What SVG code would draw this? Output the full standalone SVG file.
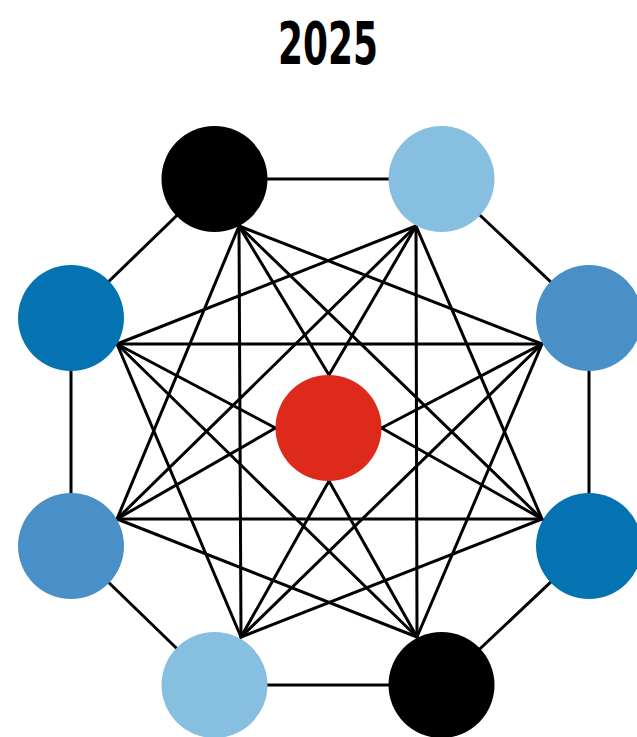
<svg xmlns="http://www.w3.org/2000/svg" width="637" height="737" viewBox="0 0 637 737">
<style>
.e{stroke:#000;stroke-width:3;fill:none;stroke-linecap:round}
.title{font-family:"DejaVu Sans","Liberation Sans",sans-serif;font-weight:bold;font-size:58px;fill:#000}
.blk{fill:#000}.lb{fill:#86bfe0}.mb{fill:#4a90c8}.db{fill:#0572b2}.red{fill:#dd2a1b}
</style>
<rect width="637" height="737" fill="#fff"/>
<text class="title" x="328" y="64" text-anchor="middle" textLength="100" lengthAdjust="spacingAndGlyphs">2025</text>
<g id="connectors" class="e">
<!-- outer ring -->
<line x1="214.5" y1="179" x2="441.5" y2="179"/>
<line x1="441.5" y1="179" x2="589" y2="318"/>
<line x1="589" y1="318" x2="589" y2="546"/>
<line x1="589" y1="546" x2="441.5" y2="685"/>
<line x1="441.5" y1="685" x2="214.5" y2="685"/>
<line x1="214.5" y1="685" x2="71" y2="546"/>
<line x1="71" y1="546" x2="71" y2="318"/>
<line x1="71" y1="318" x2="214.5" y2="179"/>
<!-- inner chords -->
<line x1="239" y1="226" x2="542" y2="344"/>
<line x1="239" y1="226" x2="542" y2="519"/>
<line x1="239" y1="226" x2="241" y2="637"/>
<line x1="239" y1="226" x2="117" y2="519"/>
<line x1="416" y1="226" x2="542" y2="519"/>
<line x1="416" y1="226" x2="417" y2="637"/>
<line x1="416" y1="226" x2="117" y2="519"/>
<line x1="416" y1="226" x2="117" y2="344"/>
<line x1="542" y1="344" x2="417" y2="637"/>
<line x1="542" y1="344" x2="241" y2="637"/>
<line x1="542" y1="344" x2="117" y2="344"/>
<line x1="542" y1="519" x2="241" y2="637"/>
<line x1="542" y1="519" x2="117" y2="519"/>
<line x1="417" y1="637" x2="117" y2="519"/>
<line x1="417" y1="637" x2="117" y2="344"/>
<line x1="241" y1="637" x2="117" y2="344"/>
<!-- to centre -->
<line x1="239" y1="226" x2="329" y2="375"/>
<line x1="416" y1="226" x2="329" y2="375"/>
<line x1="542" y1="344" x2="381.5" y2="428"/>
<line x1="542" y1="519" x2="381.5" y2="428"/>
<line x1="417" y1="637" x2="329" y2="481"/>
<line x1="241" y1="637" x2="329" y2="481"/>
<line x1="117" y1="519" x2="275.5" y2="428"/>
<line x1="117" y1="344" x2="275.5" y2="428"/>
</g>
<g id="n-tl"><circle class="blk" cx="214.5" cy="179" r="53"/></g>
<g id="n-tr"><circle class="lb" cx="441.5" cy="179" r="53"/></g>
<g id="n-ru"><circle class="mb" cx="589" cy="318" r="53"/></g>
<g id="n-rl"><circle class="db" cx="589" cy="546" r="53"/></g>
<g id="n-br"><circle class="blk" cx="441.5" cy="685" r="53"/></g>
<g id="n-bl"><circle class="lb" cx="214.5" cy="685" r="53"/></g>
<g id="n-ll"><circle class="mb" cx="71" cy="546" r="53"/></g>
<g id="n-lu"><circle class="db" cx="71" cy="318" r="53"/></g>
<g id="n-c"><circle class="red" cx="328.5" cy="428" r="53"/></g>
</svg>
